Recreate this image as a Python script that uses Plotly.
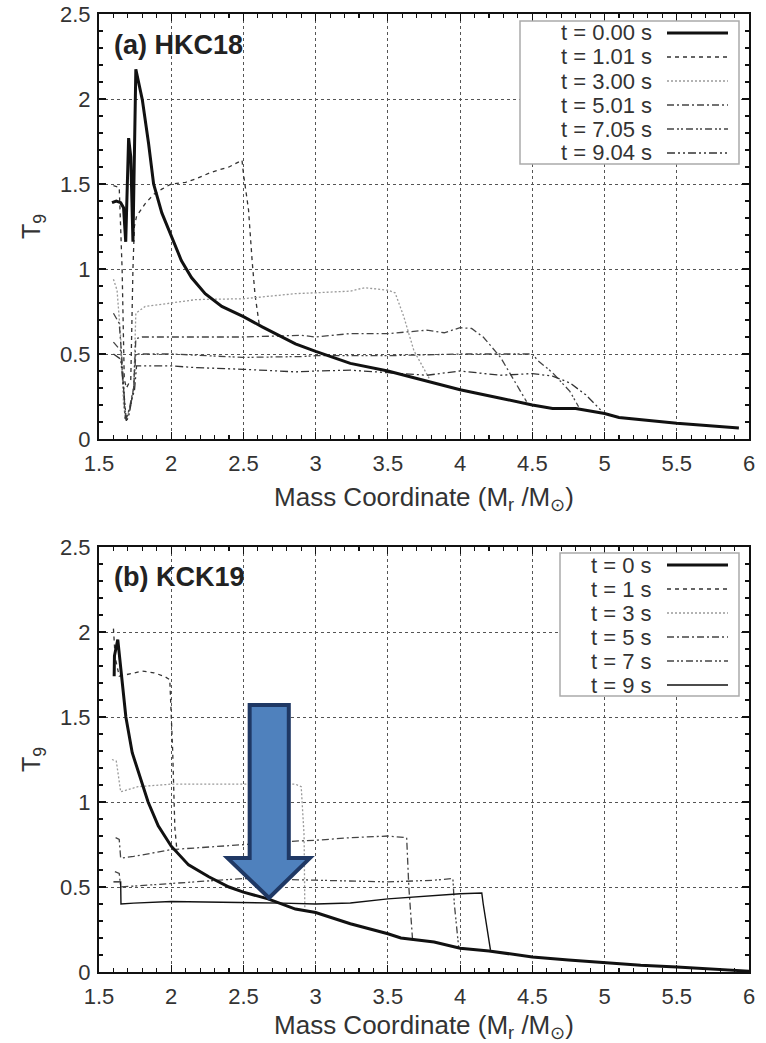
import plotly.graph_objects as go

# ---------------- data: panel (a) HKC18 ----------------
a_t000_m = [1.59, 1.62, 1.65, 1.67, 1.685, 1.695, 1.705, 1.72, 1.735, 1.755, 1.80, 1.843, 1.878, 1.935, 2.0, 2.07,
            2.14, 2.235, 2.35, 2.5, 2.63, 2.86, 3.0, 3.24, 3.5, 3.77, 4.0, 4.28, 4.5, 4.64, 4.8, 5.0, 5.1, 5.5, 5.93]
a_t000_t = [1.39, 1.40, 1.39, 1.36, 1.16, 1.5, 1.77, 1.66, 1.16, 2.175, 1.995, 1.74, 1.5, 1.33, 1.19, 1.05,
            0.95, 0.855, 0.78, 0.72, 0.66, 0.56, 0.515, 0.445, 0.40, 0.34, 0.29, 0.24, 0.20, 0.18, 0.18, 0.15, 0.127, 0.092, 0.065]

a_t101_m = [1.60, 1.64, 1.66, 1.675, 1.69, 1.72, 1.735, 1.745, 1.76, 1.82, 1.88, 1.935, 2.0, 2.1, 2.17, 2.28, 2.4,
            2.49, 2.5, 2.535, 2.56, 2.58, 2.61]
a_t101_t = [1.49, 1.48, 1.0, 0.35, 0.3, 0.35, 1.0, 1.25, 1.31, 1.385, 1.44, 1.47, 1.50, 1.51, 1.53, 1.57, 1.60,
            1.64, 1.56, 1.35, 1.05, 0.85, 0.67]

a_t300_m = [1.60, 1.625, 1.65, 1.67, 1.685, 1.70, 1.72, 1.74, 1.755, 1.82, 2.0, 2.17, 2.5, 2.86, 3.0, 3.24, 3.34,
            3.5, 3.55, 3.61, 3.68, 3.75, 3.79]
a_t300_t = [0.94, 0.875, 0.6, 0.2, 0.11, 0.14, 0.2, 0.3, 0.74, 0.78, 0.80, 0.82, 0.825, 0.855, 0.86, 0.87, 0.89,
            0.875, 0.86, 0.72, 0.52, 0.41, 0.35]

a_t501_m = [1.60, 1.64, 1.665, 1.68, 1.70, 1.72, 1.74, 1.755, 1.8, 2.0, 2.5, 2.9, 3.0, 3.24, 3.5, 3.77, 3.89, 4.0,
            4.08, 4.16, 4.28, 4.37, 4.46]
a_t501_t = [0.74, 0.68, 0.4, 0.12, 0.14, 0.22, 0.3, 0.59, 0.60, 0.60, 0.60, 0.61, 0.60, 0.62, 0.62, 0.64, 0.625,
            0.655, 0.65, 0.60, 0.48, 0.35, 0.22]

a_t705_m = [1.60, 1.65, 1.67, 1.685, 1.70, 1.72, 1.74, 1.755, 2.0, 2.5, 2.9, 3.0, 3.5, 4.0, 4.5, 4.54, 4.64, 4.76, 4.82]
a_t705_t = [0.57, 0.52, 0.3, 0.12, 0.15, 0.2, 0.3, 0.50, 0.50, 0.48, 0.485, 0.49, 0.49, 0.50, 0.50, 0.46, 0.39, 0.28, 0.19]

a_t904_m = [1.60, 1.65, 1.67, 1.69, 1.71, 1.73, 1.745, 1.76, 2.0, 2.17, 2.5, 2.86, 3.0, 3.24, 3.5, 3.77, 4.0, 4.28,
            4.5, 4.64, 4.76, 4.87, 4.98]
a_t904_t = [0.50, 0.47, 0.3, 0.1, 0.15, 0.25, 0.28, 0.43, 0.43, 0.42, 0.41, 0.395, 0.40, 0.405, 0.39, 0.375, 0.40,
            0.375, 0.385, 0.37, 0.33, 0.26, 0.165]

a_labels = ["t = 0.00 s", "t = 1.01 s", "t = 3.00 s", "t = 5.01 s", "t = 7.05 s", "t = 9.04 s"]

# ---------------- data: panel (b) KCK19 ----------------
b_t0_m = [1.605, 1.607, 1.63, 1.65, 1.686, 1.73, 1.79, 1.84, 1.91, 2.0, 2.12, 2.26, 2.4, 2.5, 2.67, 2.86, 3.0, 3.24,
          3.5, 3.59, 3.82, 4.0, 4.2, 4.5, 4.75, 5.0, 5.25, 5.5, 5.75, 6.0]
b_t0_t = [1.74, 1.86, 1.955, 1.78, 1.50, 1.29, 1.13, 1.0, 0.86, 0.74, 0.63, 0.56, 0.50, 0.47, 0.43, 0.37, 0.35, 0.284,
          0.225, 0.20, 0.176, 0.14, 0.124, 0.088, 0.07, 0.055, 0.04, 0.03, 0.018, 0.005]

b_t1_m = [1.60, 1.612, 1.64, 1.70, 1.80, 1.88, 1.95, 1.99, 2.01, 2.025, 2.04]
b_t1_t = [2.02, 1.85, 1.74, 1.75, 1.77, 1.76, 1.74, 1.72, 1.3, 0.85, 0.71]

b_t3_m = [1.59, 1.62, 1.65, 1.77, 2.0, 2.5, 2.86, 2.9, 2.92, 2.925]
b_t3_t = [1.25, 1.24, 1.06, 1.09, 1.105, 1.105, 1.105, 1.09, 0.8, 0.37]

b_t5_m = [1.615, 1.64, 1.65, 1.74, 2.0, 2.5, 2.86, 3.0, 3.24, 3.5, 3.63, 3.645, 3.67]
b_t5_t = [0.79, 0.78, 0.67, 0.68, 0.72, 0.75, 0.77, 0.775, 0.79, 0.80, 0.79, 0.5, 0.2]

b_t7_m = [1.61, 1.64, 1.65, 2.0, 2.5, 3.0, 3.5, 3.82, 3.95, 3.96, 3.99]
b_t7_t = [0.59, 0.58, 0.50, 0.52, 0.55, 0.54, 0.53, 0.54, 0.55, 0.4, 0.145]

b_t9_m = [1.60, 1.65, 1.652, 1.74, 2.0, 2.5, 2.77, 3.0, 3.24, 3.5, 3.82, 4.0, 4.15, 4.16, 4.21]
b_t9_t = [0.53, 0.53, 0.40, 0.405, 0.415, 0.41, 0.405, 0.40, 0.406, 0.43, 0.45, 0.46, 0.465, 0.4, 0.13]

b_labels = ["t = 0 s", "t = 1 s", "t = 3 s", "t = 5 s", "t = 7 s", "t = 9 s"]

x_ticks = [1.5, 2, 2.5, 3, 3.5, 4, 4.5, 5, 5.5, 6]
y_ticks = [0, 0.5, 1, 1.5, 2, 2.5]

# ---------------- styles ----------------
a_styles = [
    dict(color="#111111", width=3, dash="solid"),
    dict(color="#333333", width=1.3, dash="4px,4px"),
    dict(color="#9a9a9a", width=1.3, dash="2px,2px"),
    dict(color="#444444", width=1.3, dash="7px,3px,2px,3px"),
    dict(color="#444444", width=1.3, dash="7px,3px,2px,2px,2px,3px"),
    dict(color="#333333", width=1.3, dash="8px,3px,2px,3px,2px,3px"),
]
b_styles = [
    dict(color="#111111", width=3, dash="solid"),
    dict(color="#333333", width=1.3, dash="4px,4px"),
    dict(color="#9a9a9a", width=1.3, dash="2px,2px"),
    dict(color="#444444", width=1.3, dash="7px,3px,2px,3px"),
    dict(color="#444444", width=1.3, dash="7px,3px,2px,2px,2px,3px"),
    dict(color="#111111", width=1.4, dash="solid"),
]

W, H = 766, 1043
ML, MR, MT, MB = 99, 17, 14, 71
TOP_Y0, TOP_Y1 = 14, 439
BOT_Y0, BOT_Y1 = 547, 972
PH = H - MT - MB
PW = W - ML - MR


def ppx(px):
    return (px - ML) / PW


def ppy(py):
    return 1 - (py - MT) / PH


fig = go.Figure()

a_series = [(a_t000_m, a_t000_t), (a_t101_m, a_t101_t), (a_t300_m, a_t300_t),
            (a_t501_m, a_t501_t), (a_t705_m, a_t705_t), (a_t904_m, a_t904_t)]
b_series = [(b_t0_m, b_t0_t), (b_t1_m, b_t1_t), (b_t3_m, b_t3_t),
            (b_t5_m, b_t5_t), (b_t7_m, b_t7_t), (b_t9_m, b_t9_t)]

# draw thick t=0 last so it sits on top
order = [1, 2, 3, 4, 5, 0]
for i in order:
    m, t = a_series[i]
    fig.add_trace(go.Scatter(x=m, y=t, mode="lines", line=a_styles[i], name=a_labels[i],
                             showlegend=False, xaxis="x", yaxis="y"))
for i in order:
    m, t = b_series[i]
    fig.add_trace(go.Scatter(x=m, y=t, mode="lines", line=b_styles[i], name=b_labels[i],
                             showlegend=False, xaxis="x2", yaxis="y2"))

font_main = "Liberation Sans, Arial, Helvetica, sans-serif"
axis_common = dict(
    showline=True, linecolor="#111111", linewidth=2, mirror="ticks",
    ticks="inside", ticklen=7, tickwidth=1.2, tickcolor="#111111",
    showgrid=True, gridcolor="#555555", gridwidth=1, griddash="dot",
    zeroline=False, automargin=False,
    tickfont=dict(family=font_main, size=22, color="#333333"),
)
x_common = dict(axis_common, range=[1.5, 6], tickvals=x_ticks,
                ticktext=[f"{v:g}" for v in x_ticks], ticklabelstandoff=4,
                minor=dict(dtick=0.1, tick0=1.5, ticks="inside", ticklen=4, tickcolor="#111111", showgrid=False))
y_common = dict(axis_common, range=[0, 2.5], tickvals=y_ticks,
                ticktext=[f"{v:g}" for v in y_ticks], ticklabelstandoff=2,
                minor=dict(dtick=0.1, tick0=0, ticks="inside", ticklen=4, tickcolor="#111111", showgrid=False))

xtitle = dict(text="Mass Coordinate (M<sub>r</sub> /M<sub>\u2299</sub>)",
              font=dict(family=font_main, size=26, color="#333333"), standoff=12)
ytitle = dict(text="T<sub>9</sub>", font=dict(family=font_main, size=25, color="#333333"), standoff=12)

fig.update_layout(
    width=W, height=H,
    margin=dict(l=ML, r=MR, t=MT, b=MB, autoexpand=False),
    paper_bgcolor="white", plot_bgcolor="white",
    xaxis=dict(x_common, domain=[0, 1], anchor="y", title=xtitle),
    yaxis=dict(y_common, domain=[ppy(TOP_Y1), 1], anchor="x", title=ytitle),
    xaxis2=dict(x_common, domain=[0, 1], anchor="y2", title=xtitle),
    yaxis2=dict(y_common, domain=[0, ppy(BOT_Y0)], anchor="x2", title=ytitle),
    showlegend=False,
)

shapes = []
annotations = []

# panel labels
annotations.append(dict(text="<b>(a) HKC18</b>", xref="paper", yref="paper", x=ppx(112), y=ppy(45),
                        xanchor="left", yanchor="middle", showarrow=False,
                        font=dict(family=font_main, size=27, color="#222222")))
annotations.append(dict(text="<b>(b) KCK19</b>", xref="paper", yref="paper", x=ppx(112), y=ppy(577),
                        xanchor="left", yanchor="middle", showarrow=False,
                        font=dict(family=font_main, size=27, color="#222222")))


def add_legend(box, rows_y, labels, styles):
    x0, y0, x1, y1 = box
    shapes.append(dict(type="rect", xref="paper", yref="paper", x0=ppx(x0), x1=ppx(x1), y0=ppy(y0), y1=ppy(y1),
                       line=dict(color="#aaaaaa", width=1.5), fillcolor="white", layer="above"))
    for yy, lab, st in zip(rows_y, labels, styles):
        annotations.append(dict(text=lab, xref="paper", yref="paper", x=ppx(654), y=ppy(yy),
                                xanchor="right", yanchor="middle", showarrow=False, height=23,
                                font=dict(family=font_main, size=22, color="#333333")))
        shapes.append(dict(type="line", xref="paper", yref="paper", x0=ppx(667), x1=ppx(728),
                           y0=ppy(yy), y1=ppy(yy), line=st, layer="above"))


add_legend((520, 21, 739, 164), [33, 57, 81, 105, 129, 153], a_labels, a_styles)
add_legend((560, 553, 739, 696), [565, 589, 613, 637, 661, 685], b_labels, b_styles)

# blue arrow annotation in panel (b)
arrow_shaft_x = (2.543, 2.814)
arrow_head_x = (2.39, 2.96)
arrow_top, arrow_neck, arrow_tip = 1.57, 0.67, 0.435
arrow_tip_x = 2.677
path = (f"M {arrow_shaft_x[0]},{arrow_top} L {arrow_shaft_x[1]},{arrow_top} "
        f"L {arrow_shaft_x[1]},{arrow_neck} L {arrow_head_x[1]},{arrow_neck} "
        f"L {arrow_tip_x},{arrow_tip} L {arrow_head_x[0]},{arrow_neck} "
        f"L {arrow_shaft_x[0]},{arrow_neck} Z")
shapes.append(dict(type="path", xref="x2", yref="y2", path=path, fillcolor="#4F81BD",
                   line=dict(color="#1F3864", width=4), layer="above"))

fig.update_layout(shapes=shapes, annotations=annotations)

fig.write_html("out.html", config={"displayModeBar": False, "staticPlot": True},
               post_script="document.body.style.margin='0';document.body.style.overflow='hidden';")
